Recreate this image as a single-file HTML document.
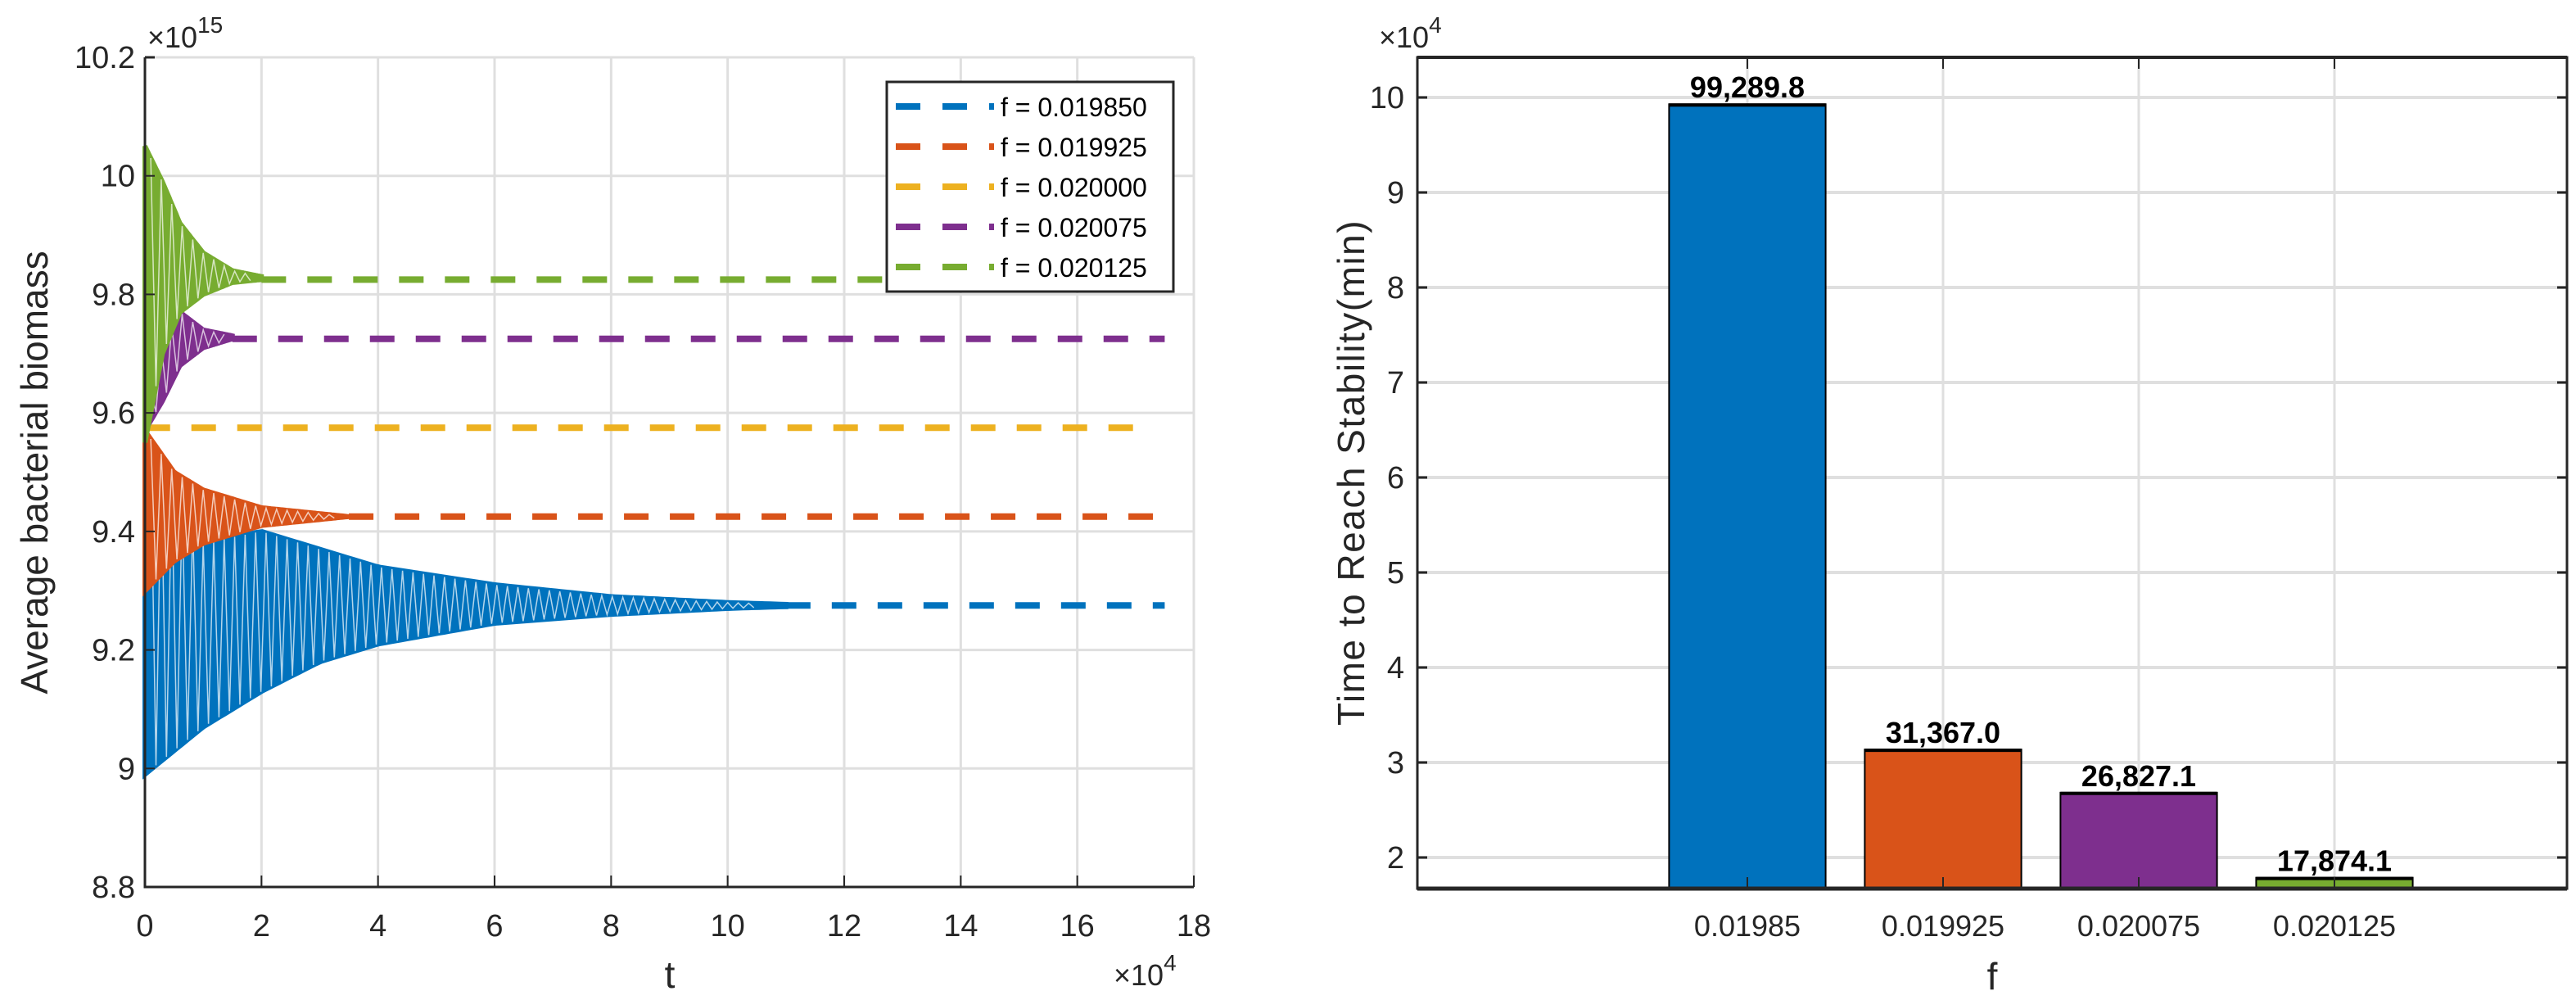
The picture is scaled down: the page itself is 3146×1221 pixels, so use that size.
<!DOCTYPE html>
<html><head><meta charset="utf-8">
<style>
html,body{margin:0;padding:0;background:#fff;}
svg{display:block;font-family:"Liberation Sans",sans-serif;}
</style></head>
<body>
<svg id="c" width="3146" height="1221" viewBox="0 0 3146 1221" xmlns="http://www.w3.org/2000/svg"></svg>
<script>
// ---- Left chart data ----
const leftXTicks = [0,2,4,6,8,10,12,14,16,18];
const leftYTicks = [8.8,9,9.2,9.4,9.6,9.8,10,10.2];
const leftYTickLabels = ["8.8","9","9.2","9.4","9.6","9.8","10","10.2"];
const seriesNames = ["f = 0.019850","f = 0.019925","f = 0.020000","f = 0.020075","f = 0.020125"];
const seriesColors = ["#0072BD","#D95319","#EDB120","#7E2F8E","#77AC30"];
const steadyValues = [9.275,9.425,9.575,9.725,9.825];
const dashEnd = [17.5,17.5,17.3,17.5,17.5];
const envT0 = [0,1,2,3,4,6,8,10,11];
const envUp0 = [9.55,9.38,9.40,9.37,9.34,9.31,9.29,9.28,9.277];
const envLo0 = [8.99,9.07,9.13,9.18,9.21,9.245,9.26,9.27,9.273];
const envT1 = [0,0.5,1,2,3,3.5];
const envUp1 = [9.57,9.50,9.47,9.44,9.43,9.425];
const envLo1 = [9.30,9.35,9.38,9.41,9.42,9.425];
const envT2 = [0,0.01];
const envUp2 = [9.575,9.575];
const envLo2 = [9.575,9.575];
const envT3 = [0,0.3,0.6,1,1.5];
const envUp3 = [9.60,9.72,9.77,9.74,9.73];
const envLo3 = [9.57,9.62,9.68,9.71,9.725];
const envT4 = [0,0.3,0.6,1,1.5,2];
const envUp4 = [10.05,9.99,9.92,9.87,9.84,9.83];
const envLo4 = [9.55,9.70,9.77,9.80,9.82,9.825];
// ---- Right chart data ----
const barCats = ["0.01985","0.019925","0.020075","0.020125"];
const barValues = [99289.8,31367.0,26827.1,17874.1];
const barLabels = ["99,289.8","31,367.0","26,827.1","17,874.1"];
const barColors = ["#0072BD","#D95319","#7E2F8E","#77AC30"];
const rightYTicks = [2,3,4,5,6,7,8,9,10];

const NS="http://www.w3.org/2000/svg";
const svg=document.getElementById('c');
function mk(tag,attrs,parent){const e=document.createElementNS(NS,tag);for(const k in attrs)e.setAttribute(k,attrs[k]);(parent||svg).appendChild(e);return e;}

const L={x0:177,x1:1458,y0:1083,y1:70};
const lx=t=>L.x0+(t-0)/(18-0)*(L.x1-L.x0);
const ly=v=>L.y0-(v-8.8)/(10.2-8.8)*(L.y0-L.y1);
const gL=mk('g',{});


leftXTicks.forEach(t=>{const l=mk('line',{x1:lx(t),x2:lx(t),y1:L.y1,y2:L.y0,stroke:'#dfdfdf','stroke-width':3},gL);});
leftYTicks.forEach(v=>{const l=mk('line',{x1:L.x0,x2:L.x1,y1:ly(v),y2:ly(v),stroke:'#dfdfdf','stroke-width':3},gL);});

function interp(ts,vs,t){if(t<=ts[0])return vs[0];for(let i=1;i<ts.length;i++){if(t<=ts[i]){const f=(t-ts[i-1])/(ts[i]-ts[i-1]);return vs[i-1]+f*(vs[i]-vs[i-1]);}}return vs[vs.length-1];}
const envs=[[envT0,envUp0,envLo0],[envT1,envUp1,envLo1],[envT2,envUp2,envLo2],[envT3,envUp3,envLo3],[envT4,envUp4,envLo4]];
[0,1,2,3,4].forEach(i=>{
  const [ts,up,lo]=envs[i];const col=seriesColors[i];
  const tEnd=ts[ts.length-1];
  if(tEnd>0.05){
    let band='';const N=120;
    for(let j=0;j<=N;j++){const t=tEnd*j/N;band+=(j?'L':'M')+lx(t).toFixed(1)+','+ly(interp(ts,up,t)).toFixed(1);}
    for(let j=N;j>=0;j--){const t=tEnd*j/N;band+='L'+lx(t).toFixed(1)+','+ly(interp(ts,lo,t)).toFixed(1);}
    const bp=mk('path',{d:band+'Z',fill:col,stroke:col,'stroke-width':6},gL);
    
    let d='';let k=0;
    for(let t=0.1;t<=tEnd*0.95;t+=0.09){const v=(k%2==0)?interp(ts,up,t):interp(ts,lo,t);d+=(k?'L':'M')+lx(t).toFixed(1)+','+ly(v).toFixed(1);k++;}
    const p=mk('path',{d:d,fill:'none',stroke:'#fff','stroke-width':1.5,opacity:0.7},gL);
    
  }
  const dl=mk('line',{x1:lx(tEnd),x2:lx(dashEnd[i]),y1:ly(steadyValues[i]),y2:ly(steadyValues[i]),stroke:col,'stroke-width':8,'stroke-dasharray':'30 26'},gL);
  
});
const axL=mk('path',{d:`M${L.x0},${L.y1}V${L.y0}H${L.x1}`,fill:'none',stroke:'#262626','stroke-width':3},gL);

mk('line',{x1:L.x0,x2:L.x0+12,y1:L.y1,y2:L.y1,stroke:'#262626','stroke-width':3},gL);
leftXTicks.forEach(t=>{mk('line',{x1:lx(t),x2:lx(t),y1:L.y0,y2:L.y0-14,stroke:'#262626','stroke-width':2},gL);
  const tx=mk('text',{x:lx(t),y:1143,'font-size':38,'text-anchor':'middle',fill:'#262626'},gL);tx.textContent=t;});
leftYTicks.forEach((v,j)=>{mk('line',{x1:L.x0,x2:L.x0+12,y1:ly(v),y2:ly(v),stroke:'#262626','stroke-width':2},gL);
  const tx=mk('text',{x:L.x0-12,y:ly(v)+13,'font-size':38,'text-anchor':'end',fill:'#262626'},gL);tx.textContent=leftYTickLabels[j];});
let t1=mk('text',{x:180,y:58,'font-size':36,fill:'#262626'},gL);t1.innerHTML='×10<tspan dy="-18" font-size="28">15</tspan>';

let t2=mk('text',{x:1360,y:1203,'font-size':36,fill:'#262626'},gL);t2.innerHTML='×10<tspan dy="-18" font-size="28">4</tspan>';

let xl=mk('text',{x:818,y:1206,'font-size':46,'text-anchor':'middle',fill:'#262626'},gL);xl.textContent='t';

let yl=mk('text',{x:0,y:0,'font-size':46,'text-anchor':'middle',fill:'#262626',transform:'translate(58,577) rotate(-90)'},gL);yl.textContent='Average bacterial biomass';

const lg=mk('g',{},gL);
mk('rect',{x:1083,y:100,width:350,height:256,fill:'#fff',stroke:'#262626','stroke-width':3},lg);
seriesNames.forEach((n,i)=>{const y=130+i*49;
  const e=mk('g',{},lg);
  mk('line',{x1:1094,x2:1214,y1:y,y2:y,stroke:seriesColors[i],'stroke-width':8,'stroke-dasharray':'30 27'},e);
  const tx=mk('text',{x:1222,y:y+12,'font-size':32,fill:'#000'},e);tx.textContent=n;});

const R={x0:1731,x1:3135,y0:1085,y1:70};
const catStep=239, cat0=2134;
const rx=i=>cat0+i*catStep;
const ry=v=>1047-(v-2)*116;
const gR=mk('g',{});
barCats.forEach((c,i)=>{const l=mk('line',{x1:rx(i),x2:rx(i),y1:R.y1,y2:R.y0,stroke:'#dfdfdf','stroke-width':3},gR);});
rightYTicks.forEach(v=>{const l=mk('line',{x1:R.x0,x2:R.x1,y1:ry(v),y2:ry(v),stroke:'#dfdfdf','stroke-width':4},gR);});
const bw=catStep*0.8;
barValues.forEach((v,i)=>{const top=ry(v/1e4);
  const b=mk('rect',{x:rx(i)-bw/2,y:top,width:bw,height:R.y0-top,fill:barColors[i],stroke:'#000','stroke-width':2},gR);
  
  mk('line',{x1:rx(i)-bw/2,x2:rx(i)+bw/2,y1:top+1,y2:top+1,stroke:'#000','stroke-width':4},gR);
  const tx=mk('text',{x:rx(i),y:top-8,'font-size':36,'font-weight':'bold','text-anchor':'middle',fill:'#000'},gR);tx.textContent=barLabels[i];
  });
const axR=mk('rect',{x:R.x0,y:R.y1,width:R.x1-R.x0,height:R.y0-R.y1,fill:'none',stroke:'#262626','stroke-width':3},gR);

mk('line',{x1:R.x0,x2:R.x1,y1:R.y0,y2:R.y0,stroke:'#262626','stroke-width':5},gR);
mk('line',{x1:R.x0,x2:R.x1,y1:R.y1,y2:R.y1,stroke:'#262626','stroke-width':4},gR);
barCats.forEach((c,i)=>{mk('line',{x1:rx(i),x2:rx(i),y1:R.y0,y2:R.y0-14,stroke:'#262626','stroke-width':2},gR);
  mk('line',{x1:rx(i),x2:rx(i),y1:R.y1,y2:R.y1+14,stroke:'#262626','stroke-width':2},gR);
  const tx=mk('text',{x:rx(i),y:1143,'font-size':36,'text-anchor':'middle',fill:'#262626'},gR);tx.textContent=c;});
rightYTicks.forEach(v=>{mk('line',{x1:R.x0,x2:R.x0+12,y1:ry(v),y2:ry(v),stroke:'#262626','stroke-width':3},gR);
  mk('line',{x1:R.x1,x2:R.x1-12,y1:ry(v),y2:ry(v),stroke:'#262626','stroke-width':3},gR);
  const tx=mk('text',{x:R.x0-16,y:ry(v)+13,'font-size':38,'text-anchor':'end',fill:'#262626'},gR);tx.textContent=v;});
let t3=mk('text',{x:1684,y:58,'font-size':36,fill:'#262626'},gR);t3.innerHTML='×10<tspan dy="-18" font-size="28">4</tspan>';

let xr=mk('text',{x:2433,y:1208,'font-size':46,'text-anchor':'middle',fill:'#262626'},gR);xr.textContent='f';

let yr=mk('text',{x:0,y:0,'font-size':46,'text-anchor':'middle',fill:'#262626','letter-spacing':'1.5',transform:'translate(1666,577) rotate(-90)'},gR);yr.textContent='Time to Reach Stability(min)';

</script>
</body></html>
